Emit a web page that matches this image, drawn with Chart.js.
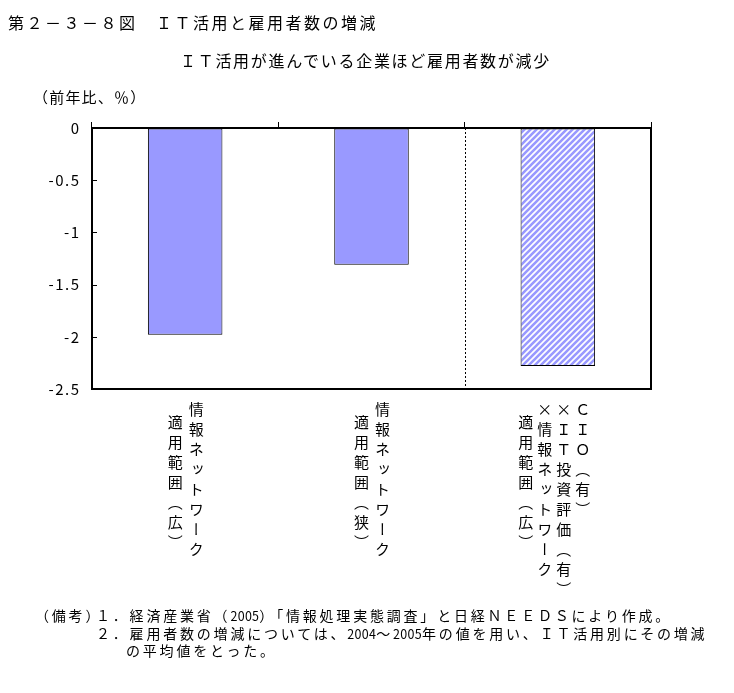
<!DOCTYPE html>
<html lang="ja">
<head>
<meta charset="utf-8">
<title>ＩＴ活用と雇用者数の増減</title>
<script src="https://cdn.jsdelivr.net/npm/chart.js@4.4.1/dist/chart.umd.min.js"></script>
<style>
  html, body { margin: 0; padding: 0; background: #fff; }
  #wrap { position: relative; width: 734px; height: 693px; overflow: hidden;
          font-family: "Noto Sans CJK JP", sans-serif; color: #000; }
  #chart { position: absolute; left: 0; top: 0; }
  .txt { position: absolute; white-space: nowrap; line-height: 1; }
  #title { left: 8px; top: 14px; font-size: 16px; letter-spacing: 2.5px; }
  #subtitle { left: 180px; top: 52px; font-size: 16px; letter-spacing: 1.7px; }
  #yunit { left: 33px; top: 89px; font-size: 15px; letter-spacing: 1.2px; }
  .note { font-size: 14px; letter-spacing: 2.8px; }
  .note .d { font-size: 12.5px; letter-spacing: 0.3px; }
  .col { position: absolute; writing-mode: vertical-rl; text-orientation: upright;
         font-size: 15px; letter-spacing: 5px; line-height: 20px; width: 20px; white-space: nowrap; }
</style>
</head>
<body>
<div id="wrap">
  <canvas id="chart" width="734" height="693"></canvas>
  <div class="txt" id="title">第２－３－８図　ＩＴ活用と雇用者数の増減</div>
  <div class="txt" id="subtitle">ＩＴ活用が進んでいる企業ほど雇用者数が減少</div>
  <div class="txt" id="yunit">（前年比、％）</div>
  <div id="labels"></div>
  <div class="txt note" style="left:35px; top:608px;">（備考）</div>
  <div class="txt note" style="left:96px; top:608px;">１．経済産業省（<span class="d">2005</span>）「情報処理実態調査」と日経ＮＥＥＤＳにより作成。</div>
  <div class="txt note" style="left:96px; top:626px;">２．雇用者数の増減については、<span class="d">2004</span>～<span class="d">2005</span>年の値を用い、ＩＴ活用別にその増減</div>
  <div class="txt note" style="left:126px; top:643px;">の平均値をとった。</div>
</div>
<script>
// chart data
const categories = [
  ['情報ネットワーク', '適用範囲（広）'],
  ['情報ネットワーク', '適用範囲（狭）'],
  ['ＣＩＯ（有）', '×ＩＴ投資評価（有）', '×情報ネットワーク', '適用範囲（広）']
];
const values = [-1.98, -1.31, -2.28];
const hatched = [false, false, true];
const yTicks = [0, -0.5, -1, -1.5, -2, -2.5];

const barColor = '#9999ff';

// diagonal stripe fill for the third bar
function makeHatch() {
  const s = 6;
  const c = document.createElement('canvas');
  c.width = s; c.height = s;
  const g = c.getContext('2d');
  g.fillStyle = '#fff';
  g.fillRect(0, 0, s, s);
  g.strokeStyle = barColor;
  g.lineWidth = 2.6;
  g.beginPath();
  g.moveTo(-1, s + 1); g.lineTo(s + 1, -1);
  g.moveTo(-1, 1); g.lineTo(1, -1);
  g.moveTo(s - 1, s + 1); g.lineTo(s + 1, s - 1);
  g.stroke();
  return g.createPattern(c, 'repeat');
}
const hatch = makeHatch();

// wider spacing for the tick numbers
const spacingPlugin = {
  id: 'tickSpacing',
  beforeDraw(chart) { chart.ctx.letterSpacing = '1.5px'; },
  afterDraw(chart) { chart.ctx.letterSpacing = '0px'; }
};

// inner y ticks, dotted separator, right/bottom frame
const framePlugin = {
  id: 'frame',
  afterDatasetsDraw(chart) {
    const { ctx, chartArea: a, scales: { x, y } } = chart;
    ctx.save();
    ctx.strokeStyle = '#000';
    ctx.lineWidth = 1;
    y.ticks.forEach(t => {
      const py = Math.round(y.getPixelForValue(t.value)) + 0.5;
      ctx.beginPath(); ctx.moveTo(a.left, py); ctx.lineTo(a.left + 5, py); ctx.stroke();
    });
    const sx = Math.round((x.getPixelForValue(1) + x.getPixelForValue(2)) / 2) + 0.5;
    ctx.setLineDash([2, 2]);
    ctx.beginPath(); ctx.moveTo(sx, a.top); ctx.lineTo(sx, a.bottom + 3); ctx.stroke();
    ctx.setLineDash([]);
    ctx.lineWidth = 2;
    ctx.beginPath();
    ctx.moveTo(a.left - 1, a.bottom); ctx.lineTo(a.right, a.bottom); ctx.lineTo(a.right, a.top - 1);
    ctx.stroke();
    ctx.restore();
  }
};

// vertical (tategaki) category labels placed from the x scale
const labelPlugin = {
  id: 'verticalLabels',
  afterRender(chart) {
    const layer = document.getElementById('labels');
    if (layer.childElementCount) return;
    const xs = chart.scales.x;
    const top = chart.chartArea.bottom + 13;
    categories.forEach((lines, i) => {
      const cx = xs.getPixelForValue(i) - (lines.length > 2 ? 4 : 0);
      const gap = lines.length > 2 ? 19 : 21;
      lines.forEach((line, j) => {
        const d = document.createElement('div');
        d.className = 'col';
        d.textContent = line;
        const colX = cx + ((lines.length - 1) / 2 - j) * gap;
        d.style.left = (colX - 10) + 'px';
        d.style.top = (top + (j === lines.length - 1 ? 13 : 0)) + 'px';
        layer.appendChild(d);
      });
    });
  }
};

new Chart(document.getElementById('chart'), {
  type: 'bar',
  data: {
    labels: categories,
    datasets: [{
      data: values,
      backgroundColor: hatched.map(h => h ? hatch : barColor),
      borderColor: '#000',
      borderWidth: 1,
      borderSkipped: false,
      barPercentage: 0.4,
      categoryPercentage: 1.0
    }]
  },
  options: {
    responsive: false,
    animation: false,
    devicePixelRatio: 1,
    layout: { padding: { left: 32, top: 122, right: 83, bottom: 304 } },
    plugins: { legend: { display: false }, tooltip: { enabled: false } },
    scales: {
      x: {
        position: 'top',
        ticks: { display: false },
        grid: { offset: true, drawOnChartArea: false, tickLength: 6, color: '#000', lineWidth: 1 },
        border: { display: true, color: '#000', width: 2 },
        afterFit: s => { s.height = 6; }
      },
      y: {
        min: -2.5,
        max: 0,
        afterBuildTicks: s => { s.ticks = yTicks.map(v => ({ value: v })); },
        ticks: {
          color: '#000',
          padding: 11.5,
          font: { family: '"Noto Sans CJK JP", sans-serif', size: 15 },
          callback: v => String(v)
        },
        grid: { drawOnChartArea: false, drawTicks: false },
        border: { display: true, color: '#000', width: 2 },
        afterFit: s => { s.width = 60; }
      }
    }
  },
  plugins: [spacingPlugin, framePlugin, labelPlugin]
});
</script>
</body>
</html>
